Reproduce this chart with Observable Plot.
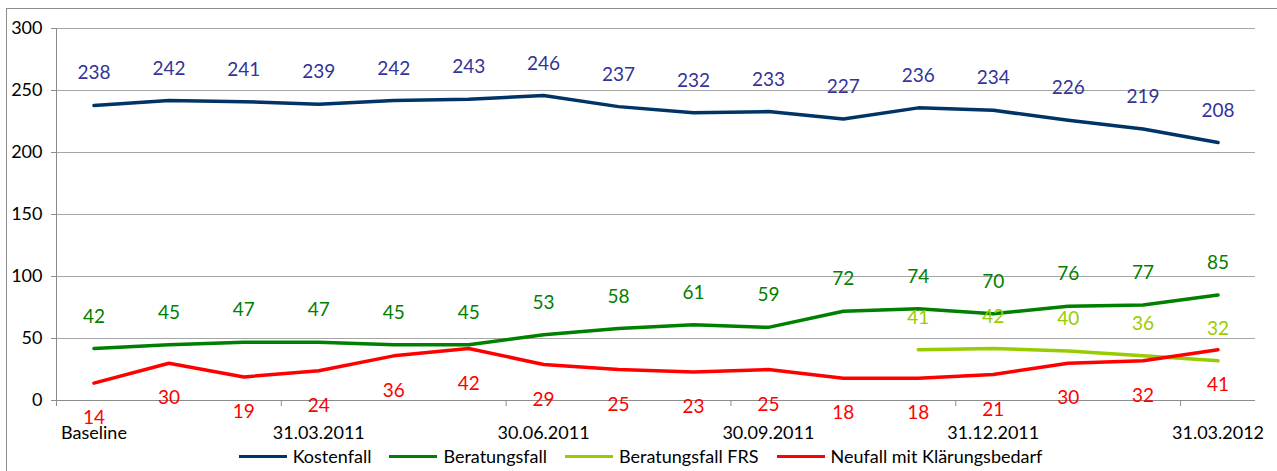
<!DOCTYPE html>
<html>
<head>
<meta charset="utf-8">
<script src="https://cdn.jsdelivr.net/npm/d3@7"></script>
<script src="https://cdn.jsdelivr.net/npm/@observablehq/plot@0.6"></script>
<style>
  html, body { margin: 0; padding: 0; background: #fff; }
  #wrap { position: relative; width: 1277px; height: 471px; overflow: hidden; font-family: Lato, "Noto Sans", sans-serif; }
  #frame { position: absolute; left: 6px; top: 8px; width: 1290px; height: 480px; border: 1px solid #8c8c8c; box-sizing: border-box; }
  #chart { position: absolute; left: 0; top: 0; }
  #legend { position: absolute; left: 0; top: 445px; width: 1277px; display: flex; justify-content: center; align-items: center; font-size: 18px; color: #000; padding-left: 22px; box-sizing: border-box; }
  .item { display: flex; align-items: center; margin-right: 18px; }
  .sw { width: 48px; height: 3px; margin-right: 6px; }
</style>
</head>
<body>
<div id="wrap">
  <div id="frame"></div>
  <div id="chart"></div>
  <div id="legend"></div>
</div>
<script>
const categories = ["Baseline","","","31.03.2011","","","30.06.2011","","","30.09.2011","","","31.12.2011","","","31.03.2012"];
const seriesNames = ["Kostenfall","Beratungsfall","Beratungsfall FRS","Neufall mit Klärungsbedarf"];
const kostenfall = [238,242,241,239,242,243,246,237,232,233,227,236,234,226,219,208];
const beratungsfall = [42,45,47,47,45,45,53,58,61,59,72,74,70,76,77,85];
const beratungsfallFRS = [null,null,null,null,null,null,null,null,null,null,null,41,42,40,36,32];
const neufall = [14,30,19,24,36,42,29,25,23,25,18,18,21,30,32,41];
const yTicks = [0,50,100,150,200,250,300];

const lineColors = ["#003366","#008000","#99cc00","#ff0000"];
const labelColors = ["#333399","#008000","#99cc00","#ff0000"];
const labelBelow = [false,false,false,true];
const allSeries = [kostenfall, beratungsfall, beratungsfallFRS, neufall];

const rows = allSeries.flatMap((arr, s) =>
  arr.map((v, i) => ({i, v, s: seriesNames[s]})).filter(d => d.v != null));

const labelTicks = categories.map((c, i) => i).filter(i => categories[i] !== "");
const boundaryTicks = labelTicks.map(i => i - 0.5);

const marks = [
  Plot.gridY(yTicks.filter(t => t > 0), {stroke: "#a6a6a6", strokeOpacity: 1, strokeWidth: 1}),
  Plot.ruleY([0], {stroke: "#8c8c8c", strokeWidth: 1}),
  Plot.ruleX([-0.5], {stroke: "#8c8c8c", strokeWidth: 1}),
  Plot.axisY({ticks: yTicks, tickSize: 5, tickPadding: 9, stroke: "#8c8c8c", fontSize: 18, fill: "#000", label: null}),
  Plot.axisX({ticks: boundaryTicks, tickSize: 6, tickFormat: () => "", stroke: "#8c8c8c", label: null}),
  Plot.axisX({ticks: labelTicks, tickSize: 0, tickPadding: 26, tickFormat: i => categories[i], fontSize: 18, fill: "#000", label: null}),
];
seriesNames.forEach((name, s) => {
  const data = rows.filter(d => d.s === name);
  marks.push(Plot.line(data, {x: "i", y: "v", stroke: lineColors[s], strokeWidth: 3.5, curve: "linear"}));
});
seriesNames.forEach((name, s) => {
  const data = rows.filter(d => d.s === name);
  marks.push(Plot.text(data, {x: "i", y: "v", text: d => String(d.v), fill: labelColors[s], fontSize: 19, dy: labelBelow[s] ? 35 : -32}));
});

const chart = Plot.plot({
  width: 1277,
  height: 445,
  marginLeft: 56,
  marginRight: 22,
  marginTop: 28,
  marginBottom: 45,
  style: {fontFamily: "Lato, 'Noto Sans', sans-serif", background: "transparent", overflow: "visible"},
  x: {type: "linear", domain: [-0.5, 15.5], axis: null},
  y: {domain: [0, 300], axis: null},
  marks
});
document.getElementById("chart").appendChild(chart);

const legend = document.getElementById("legend");
seriesNames.forEach((name, s) => {
  const item = document.createElement("div");
  item.className = "item";
  const sw = document.createElement("div");
  sw.className = "sw";
  sw.style.background = lineColors[s];
  const t = document.createElement("span");
  t.textContent = name;
  item.appendChild(sw);
  item.appendChild(t);
  legend.appendChild(item);
});
</script>
</body>
</html>
